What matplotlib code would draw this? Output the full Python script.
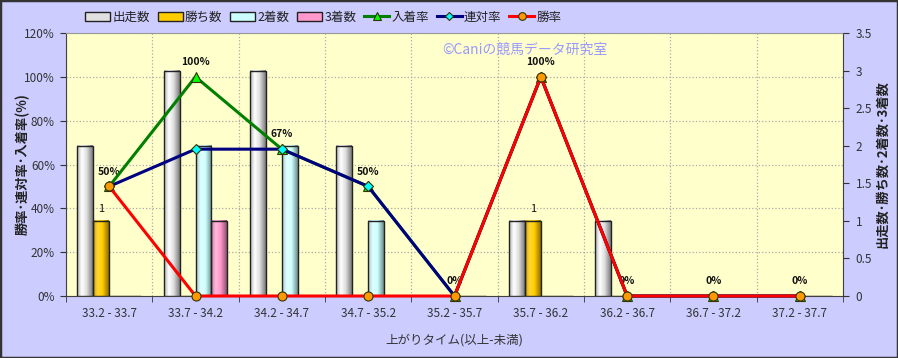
import numpy as np
import matplotlib.pyplot as plt
from matplotlib.colors import LinearSegmentedColormap, to_rgb
from matplotlib.patches import Patch, Rectangle
from matplotlib.lines import Line2D

plt.rcParams['font.family'] = ['Noto Sans CJK JP', 'DejaVu Sans']

# ── data ─────────────────────────────────────────────────────────────────────
categories = ["33.2 - 33.7", "33.7 - 34.2", "34.2 - 34.7", "34.7 - 35.2", "35.2 - 35.7",
              "35.7 - 36.2", "36.2 - 36.7", "36.7 - 37.2", "37.2 - 37.7"]
runs    = [2, 3, 3, 2, 0, 1, 1, 0, 0]     # 出走数
wins    = [1, 0, 0, 0, 0, 1, 0, 0, 0]     # 勝ち数
second  = [0, 2, 2, 1, 0, 0, 0, 0, 0]     # 2着数
third   = [0, 1, 0, 0, 0, 0, 0, 0, 0]     # 3着数
place_rate = [50, 100, 67, 50, 0, 100, 0, 0, 0]   # 入着率
rentai_rate = [50, 67, 67, 50, 0, 100, 0, 0, 0]   # 連対率
win_rate = [50, 0, 0, 0, 0, 100, 0, 0, 0]         # 勝率

BG = "#CCCCFF"
PLOT_BG = "#FFFFCC"

fig = plt.figure(figsize=(8.98, 3.58), dpi=100, facecolor=BG)
rect = [66/898, 1-296/358, (843-66)/898, (296-33)/358]
ax = fig.add_axes(rect, facecolor=PLOT_BG)
axb = ax.twinx()
axl = ax.twinx()

x = np.arange(len(categories))

# ── base axis: percent ticks + grid ─────────────────────────────────────────
ax.set_xlim(-0.5, len(categories) - 0.5)
ax.set_ylim(0, 120)
ax.set_yticks(range(0, 121, 20))
ax.set_yticklabels([f"{v}%" for v in range(0, 121, 20)])
ax.set_xticks(x)
ax.set_xticklabels(categories)
ax.set_xticks(np.arange(-0.5, len(categories), 1), minor=True)
ax.tick_params(axis='x', which='major', length=0, pad=8, labelsize=8.5, colors="#333333")
ax.tick_params(axis='x', which='minor', length=4, direction='out', color="#333333")
ax.tick_params(axis='y', length=4, direction='out', pad=4, labelsize=8.5, colors="#333333")
ax.grid(axis='y', which='major', linestyle=':', color="#AAAAAA", linewidth=0.9)
ax.grid(axis='x', which='minor', linestyle=':', color="#AAAAAA", linewidth=0.9)
for s in ax.spines.values():
    s.set_color("#404040")
ax.spines['top'].set_color("#999999")
ax.set_xlabel("上がりタイム(以上-未満)", fontsize=9, color="#333333")
ax.xaxis.set_label_coords(0.5, -0.141)
ax.set_ylabel("勝率･連対率･入着率(%)", fontsize=9.5, fontweight='bold', color="#222222")
ax.yaxis.set_label_coords(-0.047, 0.5)

# ── bars on count axis ──────────────────────────────────────────────────────
def grad_cmap(base, peak_white):
    c = np.array(to_rgb(base))
    left = c * 0.8
    peak = c + (1 - c) * peak_white
    right = c * 0.55
    return LinearSegmentedColormap.from_list("g", [(0, left), (0.3, peak), (0.6, c), (1, right)])

w = 0.185
bar_specs = [
    (runs,   -1.5, "#E0E0E0", 1.0, "出走数"),
    (wins,   -0.5, "#FFCC00", 0.2, "勝ち数"),
    (second,  0.5, "#CCFFFF", 0.4, "2着数"),
    (third,   1.5, "#FF99CC", 0.3, "3着数"),
]
grad = np.linspace(0, 1, 64).reshape(1, -1)
legend_handles = []
for vals, off, col, pw, name in bar_specs:
    cmap = grad_cmap(col, pw)
    bars = axb.bar(x + off * w, vals, width=w, facecolor='none',
                   edgecolor="#222222", linewidth=1.0, zorder=3)
    for b in bars:
        h = b.get_height()
        if h <= 0:
            continue
        x0 = b.get_x()
        axb.imshow(grad, extent=[x0, x0 + b.get_width(), 0, h], aspect='auto',
                   cmap=cmap, zorder=2, interpolation='bilinear')
    legend_handles.append(Patch(facecolor=col, edgecolor="#222222", linewidth=1.0, label=name))

# 勝ち数 labels
for i, v in enumerate(wins):
    if v > 0:
        axb.annotate(str(v), (x[i] - 0.5 * w, v), xytext=(0, 5), textcoords='offset points',
                     ha='center', va='bottom', fontsize=8, color="#111111")

axb.set_xlim(-0.5, len(categories) - 0.5)
axb.set_ylim(0, 3.5)
axb.set_yticks(np.arange(0, 3.51, 0.5))
axb.set_yticklabels(["0", "0.5", "1", "1.5", "2", "2.5", "3", "3.5"])
axb.tick_params(axis='y', length=4, direction='out', pad=5, labelsize=8.5, colors="#333333")
axb.set_ylabel("出走数･勝ち数･2着数･3着数", fontsize=9.5, fontweight='bold', color="#222222",
               rotation=90)
axb.yaxis.set_label_coords(1.042, 0.5)
for s in axb.spines.values():
    s.set_visible(False)

# ── rate lines ─────────────────────────────────────────────────────────────
line_specs = [
    (place_rate,  "#008000", "^", "#00FF00", "入着率", 7),
    (rentai_rate, "#000080", "D", "#00FFFF", "連対率", 5.5),
    (win_rate,    "#FF0000", "o", "#FF9900", "勝率", 6.5),
]
for vals, col, mk, mfc, name, ms in line_specs:
    axl.plot(x, vals, color=col, linewidth=2.2, marker=mk, markersize=ms,
             markerfacecolor=mfc, markeredgecolor="#333300", markeredgewidth=0.8,
             zorder=4, clip_on=False)
    legend_handles.append(Line2D([0], [0], color=col, linewidth=2.2, marker=mk, markersize=ms - 1,
                                 markerfacecolor=mfc, markeredgecolor="#333300",
                                 markeredgewidth=0.8, label=name))

for i, v in enumerate(place_rate):
    axl.annotate(f"{v}%", (x[i], v), xytext=(0, 7), textcoords='offset points',
                 ha='center', va='bottom', fontsize=7.5, fontweight='bold', color="#111111")

axl.set_xlim(-0.5, len(categories) - 0.5)
axl.set_ylim(0, 120)
axl.set_yticks([])
for s in axl.spines.values():
    s.set_visible(False)

# ── legend, watermark, border ──────────────────────────────────────────────
fig.legend(handles=legend_handles, loc='center left', bbox_to_anchor=(80/898, 1 - 17/358),
           ncol=7, frameon=False, fontsize=9, handlelength=2.0, handletextpad=0.2,
           columnspacing=0.6, numpoints=1, borderaxespad=0, labelcolor="#222222")

fig.text(525/898, 1 - 50/358, "©Caniの競馬データ研究室", ha='center', va='center',
         fontsize=10, color="#9999FF")

fig.patches.append(Rectangle((0, 0), 1, 1, transform=fig.transFigure, fill=False,
                             edgecolor="#333333", linewidth=2.5))

fig.savefig("out.png", dpi=100, facecolor=BG)
